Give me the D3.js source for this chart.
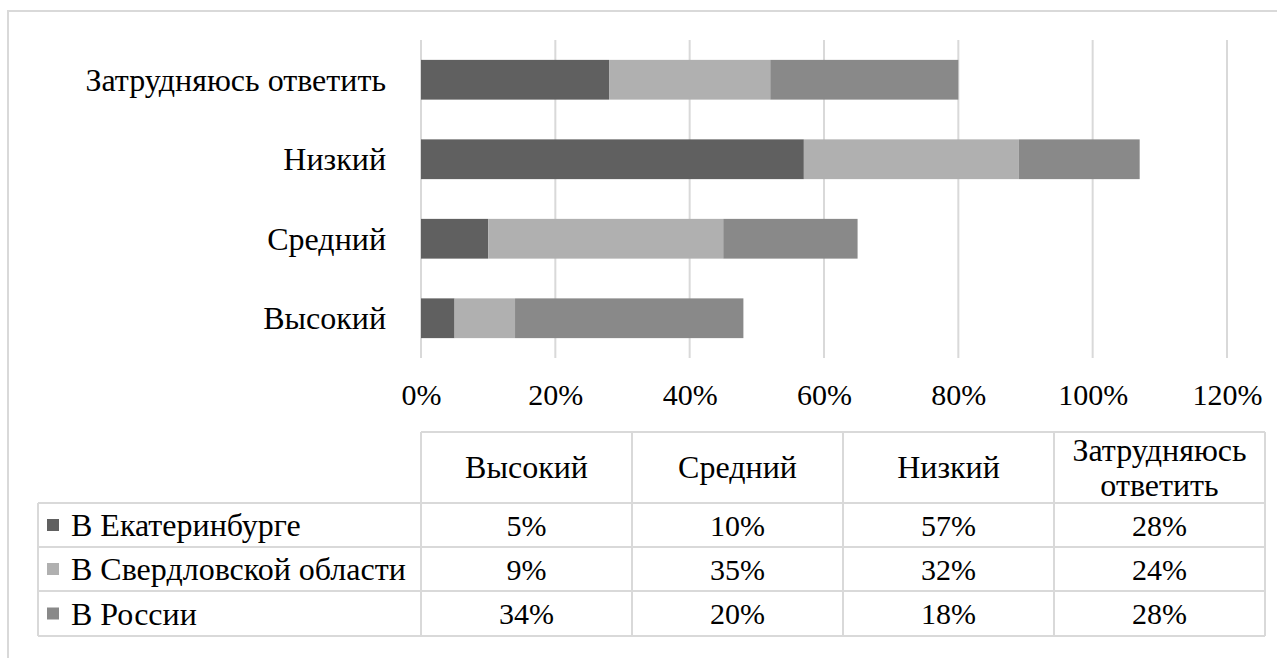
<!DOCTYPE html>
<html>
<head>
<meta charset="utf-8">
<script src="https://cdn.jsdelivr.net/npm/d3@7"></script>
<style>
  body { margin: 0; background: #fff; }
</style>
</head>
<body>
<script>
// данные
const categories = ["Высокий", "Средний", "Низкий", "Затрудняюсь ответить"];
const seriesNames = ["В Екатеринбурге", "В Свердловской области", "В России"];
const ekaterinburg = [5, 10, 57, 28];
const sverdlovsk = [9, 35, 32, 24];
const russia = [34, 20, 18, 28];
const tickValues = [0, 20, 40, 60, 80, 100, 120];
const colors = ["#606060", "#b0b0b0", "#898989"];

const W = 1277, H = 658;
const serif = "Liberation Serif";
const numSize = 30;   // цифры
const txtSize = 32;   // кириллица

let svg = d3.select("body").append("svg")
    .attr("width", W)
    .attr("height", H)
    .attr("font-family", serif);

// рамка
svg.append("rect")
    .attr("x", 8).attr("y", 11)
    .attr("width", 1290).attr("height", 700)
    .attr("fill", "none")
    .attr("stroke", "#d9d9d9")
    .attr("stroke-width", 2);

// таблица для stack
let rows = categories.map((c, i) => ({
    cat: c,
    [seriesNames[0]]: ekaterinburg[i],
    [seriesNames[1]]: sverdlovsk[i],
    [seriesNames[2]]: russia[i]
}));
let stacked = d3.stack().keys(seriesNames)(rows);

let x = d3.scaleLinear().domain([0, 120]).range([421, 1227]);
let y = d3.scaleBand()
    .domain(categories.slice().reverse())
    .range([40, 358])
    .paddingInner(0.5)
    .paddingOuter(0.25);

// сетка
svg.append("g").selectAll("line")
    .data(tickValues)
    .enter().append("line")
    .attr("x1", d => x(d)).attr("x2", d => x(d))
    .attr("y1", 40).attr("y2", 358)
    .attr("stroke", "#d9d9d9")
    .attr("stroke-width", 2);

// полосы
let groups = svg.append("g").selectAll("g")
    .data(stacked)
    .enter().append("g")
    .attr("fill", (d, i) => colors[i]);

groups.selectAll("rect")
    .data(d => d)
    .enter().append("rect")
    .attr("x", d => x(d[0]))
    .attr("y", d => y(d.data.cat))
    .attr("width", d => x(d[1]) - x(d[0]))
    .attr("height", y.bandwidth());

// подписи категорий
svg.append("g").selectAll("text")
    .data(categories)
    .enter().append("text")
    .attr("x", 386)
    .attr("y", d => y(d) + y.bandwidth() / 2)
    .attr("dy", "0.35em")
    .attr("text-anchor", "end")
    .attr("font-family", serif)
    .attr("font-size", txtSize)
    .attr("fill", "#000")
    .text(d => d);

// ось X
let xAxis = d3.axisBottom(x)
    .tickValues(tickValues)
    .tickFormat(d => d + "%")
    .tickSize(0)
    .tickPadding(0);

let axisG = svg.append("g")
    .attr("transform", "translate(0,384)")
    .call(xAxis);
axisG.select(".domain").remove();
axisG.attr("font-family", serif).attr("font-size", numSize);
axisG.selectAll("text")
    .attr("font-family", serif)
    .attr("font-size", numSize)
    .attr("fill", "#000");

// таблица данных
let col = d3.scaleBand().domain(categories).range([421, 1265]);
let tableTop = 432;
let rowLines = [503, 547, 591, 636];
let gridColor = "#d9d9d9";
let tbl = svg.append("g");

tbl.append("line")
    .attr("x1", 421).attr("x2", 1265)
    .attr("y1", tableTop).attr("y2", tableTop)
    .attr("stroke", gridColor).attr("stroke-width", 2);

tbl.selectAll("line.h")
    .data(rowLines)
    .enter().append("line")
    .attr("class", "h")
    .attr("x1", 38).attr("x2", 1265)
    .attr("y1", d => d).attr("y2", d => d)
    .attr("stroke", gridColor).attr("stroke-width", 2);

let colEdges = categories.map(c => col(c)).concat([col.range()[1]]);
tbl.selectAll("line.v")
    .data(colEdges)
    .enter().append("line")
    .attr("class", "v")
    .attr("x1", d => d).attr("x2", d => d)
    .attr("y1", tableTop).attr("y2", 636)
    .attr("stroke", gridColor).attr("stroke-width", 2);

tbl.append("line")
    .attr("x1", 38).attr("x2", 38)
    .attr("y1", 503).attr("y2", 636)
    .attr("stroke", gridColor).attr("stroke-width", 2);

// заголовки колонок
categories.forEach((c, i) => {
    let cx = col(c) + col.bandwidth() / 2;
    let t = tbl.append("text")
        .attr("x", cx)
        .attr("text-anchor", "middle")
        .attr("font-family", serif)
        .attr("font-size", txtSize);
    if (c == "Затрудняюсь ответить") {
        t.append("tspan").attr("x", cx).attr("y", 450).attr("dy", "0.35em").text("Затрудняюсь");
        t.append("tspan").attr("x", cx).attr("y", 485).attr("dy", "0.35em").text("ответить");
    } else {
        t.attr("y", 467).attr("dy", "0.35em").text(c);
    }
});

// строки
let seriesValues = [ekaterinburg, sverdlovsk, russia];
seriesNames.forEach((s, j) => {
    let top = rowLines[j], bottom = rowLines[j + 1];
    let cy = (top + bottom) / 2;
    tbl.append("rect")
        .attr("x", 47).attr("y", cy - 6)
        .attr("width", 12).attr("height", 12)
        .attr("fill", colors[j]);
    tbl.append("text")
        .attr("x", 71).attr("y", cy)
        .attr("dy", "0.35em")
        .attr("font-family", serif)
        .attr("font-size", txtSize)
        .text(s);
    seriesValues[j].forEach((v, i) => {
        tbl.append("text")
            .attr("x", col(categories[i]) + col.bandwidth() / 2)
            .attr("y", cy)
            .attr("dy", "0.35em")
            .attr("text-anchor", "middle")
            .attr("font-family", serif)
            .attr("font-size", numSize)
            .text(v + "%");
    });
});
</script>
</body>
</html>
